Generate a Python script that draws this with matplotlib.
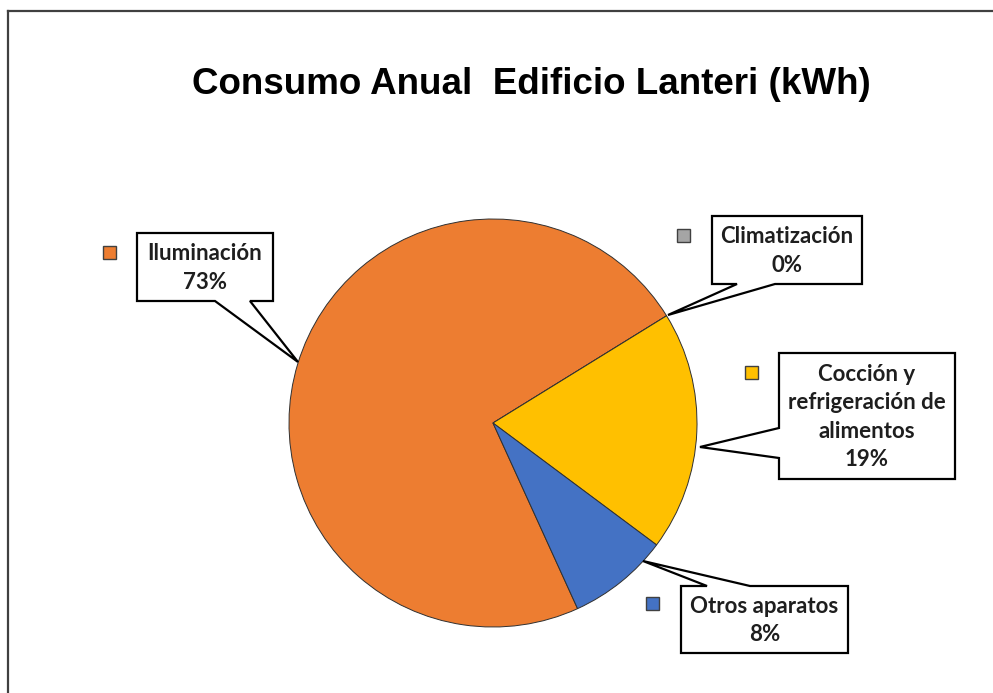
import matplotlib.pyplot as plt
from matplotlib.patches import Polygon, Rectangle
from matplotlib.lines import Line2D

# consumo anual por uso (porcentaje del total)
categorias = ['Iluminación', 'Climatización', 'Cocción y\nrefrigeración de\nalimentos', 'Otros aparatos']
porcentajes = [73, 0, 19, 8]
colores = ['#ED7D31', '#A5A5A5', '#FFC000', '#4472C4']

W, H = 993, 693


def fy(y):
    # pixel rows are counted from the top
    return H - y


def callout(ax, box, base, tip, edge):
    """
    box outline with a pointer; base are the two points where the pointer leaves the box
    """
    x0, y0, x1, y1 = box
    if edge == 'bottom':
        pts = [(x0, y0), (x1, y0), (x1, y1), (base[1], y1), tip, (base[0], y1), (x0, y1)]
    elif edge == 'top':
        pts = [(x0, y0), (base[0], y0), tip, (base[1], y0), (x1, y0), (x1, y1), (x0, y1)]
    else:  # left
        pts = [(x0, y0), (x1, y0), (x1, y1), (x0, y1), (x0, base[1]), tip, (x0, base[0])]
    pts = [(px, fy(py)) for px, py in pts]
    ax.add_patch(Polygon(pts, closed=True, facecolor='white', edgecolor='black', lw=1.6, zorder=3))


fig = plt.figure(figsize=(W / 100, H / 100), dpi=100)
ax = fig.add_axes([0, 0, 1, 1])

ax.pie(porcentajes, colors=colores, startangle=-65.5, counterclock=False,
       center=(493, fy(423)), radius=204,
       wedgeprops=dict(edgecolor='#303030', linewidth=0.7))
ax.set_xlim(0, W)
ax.set_ylim(0, H)
ax.set_aspect('auto')
ax.axis('off')

# chart frame (only left and top edges fall inside the image)
ax.add_line(Line2D([8, 8], [fy(11), -5], color='#404040', lw=1.6))
ax.add_line(Line2D([8, W + 5], [fy(11), fy(11)], color='#404040', lw=1.6))

ax.text(531, fy(84), 'Consumo Anual  Edificio Lanteri (kWh)', ha='center', va='center',
        fontsize=26.5, fontweight='bold', family='Liberation Sans')

# data label boxes: box, pointer base, tip, edge, legend key
etiquetas = [
    ((137, 233, 273, 301), (215, 250), (298, 362), 'bottom', (103, 246)),
    ((712, 216, 862, 284), (737, 775), (668, 315), 'bottom', (677, 229)),
    ((779, 353, 955, 479), (428, 458), (700, 447), 'left', (745, 366)),
    ((681, 586, 848, 653), (707, 750), (643, 561), 'top', (646, 597)),
]

for (box, base, tip, edge, key), cat, pct, col in zip(etiquetas, categorias, porcentajes, colores):
    callout(ax, box, base, tip, edge)
    x0, y0, x1, y1 = box
    ax.text((x0 + x1) / 2, fy((y0 + y1) / 2 + 1), f'{cat}\n{pct}%', ha='center', va='center',
            fontsize=16, fontweight='bold', family='Lato', linespacing=1.45,
            color='#1e1e1e', zorder=4)
    ax.add_patch(Rectangle((key[0], fy(key[1] + 13)), 13, 13, facecolor=col,
                           edgecolor='#404040', lw=1.0, zorder=3))

fig.savefig('out.png', dpi=100)
